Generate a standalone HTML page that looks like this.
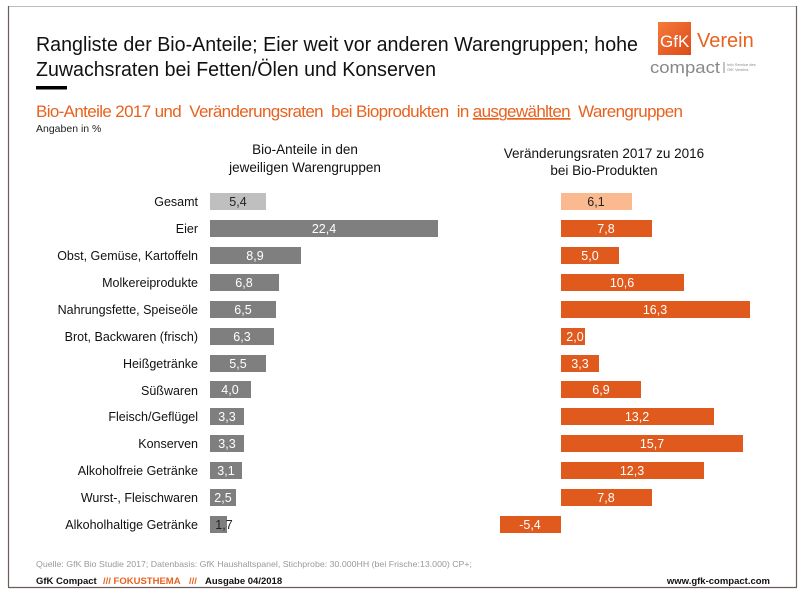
<!DOCTYPE html>
<html><head><meta charset="utf-8"><style>
html,body{margin:0;padding:0;background:#fff;}
svg{display:block;font-family:"Liberation Sans",Arial,sans-serif;}
</style></head><body>
<svg width="808" height="605" viewBox="0 0 808 605" xmlns="http://www.w3.org/2000/svg">
<rect width="808" height="605" fill="#fff"/>
<line x1="8" y1="6.5" x2="797" y2="6.5" stroke="#bdbdbd" stroke-width="1"/>
<line x1="8.5" y1="6" x2="8.5" y2="587" stroke="#6b5d55" stroke-width="1.2"/>
<line x1="796.5" y1="6" x2="796.5" y2="587" stroke="#6b5d55" stroke-width="1.2"/>
<line x1="8" y1="587.5" x2="797" y2="587.5" stroke="#6b5d55" stroke-width="1.2"/>

<text x="36" y="51" font-size="20" fill="#111" textLength="602" lengthAdjust="spacingAndGlyphs">Rangliste der Bio-Anteile; Eier weit vor anderen Warengruppen; hohe</text>
<text x="36" y="76" font-size="20" fill="#111" textLength="400" lengthAdjust="spacingAndGlyphs">Zuwachsraten bei Fetten/Ölen und Konserven</text>
<rect x="36" y="86" width="31" height="3.5" fill="#000"/>

<defs><linearGradient id="g" x1="0" y1="0" x2="1" y2="1"><stop offset="0" stop-color="#f47b3a"/><stop offset="1" stop-color="#dd4a1a"/></linearGradient></defs>
<rect x="658" y="22" width="33" height="33" fill="url(#g)"/>
<text x="660" y="47" font-size="17" fill="#fff">GfK</text>
<text x="697" y="47" font-size="20" fill="#e8621f">Verein</text>
<text x="650" y="73" font-size="17" fill="#888" textLength="70" lengthAdjust="spacingAndGlyphs">compact</text>
<line x1="724" y1="62" x2="724" y2="73" stroke="#888"/>
<text x="727" y="66" font-size="4" fill="#888">Info Service des</text>
<text x="727" y="71" font-size="4" fill="#888">GfK Vereins</text>

<text x="36" y="117" font-size="17" fill="#e8621f" textLength="647" lengthAdjust="spacing" xml:space="preserve">Bio-Anteile 2017 und  Veränderungsraten  bei Bioprodukten  in <tspan text-decoration="underline">ausgewählten</tspan>  Warengruppen</text>
<text x="36" y="132" font-size="10.5" fill="#222">Angaben in %</text>

<text x="305" y="154" font-size="13.5" fill="#111" text-anchor="middle">Bio-Anteile in den</text>
<text x="305" y="172" font-size="13.5" fill="#111" text-anchor="middle">jeweiligen Warengruppen</text>
<text x="604" y="158" font-size="13.5" fill="#111" text-anchor="middle">Veränderungsraten 2017 zu 2016</text>
<text x="604" y="175" font-size="13.5" fill="#111" text-anchor="middle">bei Bio-Produkten</text>

<g font-size="12.5" fill="#111" text-anchor="end">
<text x="198" y="206">Gesamt</text>
<text x="198" y="233">Eier</text>
<text x="198" y="260">Obst, Gemüse, Kartoffeln</text>
<text x="198" y="287">Molkereiprodukte</text>
<text x="198" y="314">Nahrungsfette, Speiseöle</text>
<text x="198" y="341">Brot, Backwaren (frisch)</text>
<text x="198" y="368">Heißgetränke</text>
<text x="198" y="395">Süßwaren</text>
<text x="198" y="421">Fleisch/Geflügel</text>
<text x="198" y="448">Konserven</text>
<text x="198" y="475">Alkoholfreie Getränke</text>
<text x="198" y="502">Wurst-, Fleischwaren</text>
<text x="198" y="529">Alkoholhaltige Getränke</text>
</g>

<g>
<rect x="210" y="193" width="56" height="17" fill="#bfbfbf"/>
<rect x="210" y="220" width="228" height="17" fill="#7f7f7f"/>
<rect x="210" y="247" width="91" height="17" fill="#7f7f7f"/>
<rect x="210" y="274" width="69" height="17" fill="#7f7f7f"/>
<rect x="210" y="301" width="66" height="17" fill="#7f7f7f"/>
<rect x="210" y="328" width="64" height="17" fill="#7f7f7f"/>
<rect x="210" y="355" width="56" height="17" fill="#7f7f7f"/>
<rect x="210" y="381" width="41" height="17" fill="#7f7f7f"/>
<rect x="210" y="408" width="34" height="17" fill="#7f7f7f"/>
<rect x="210" y="435" width="34" height="17" fill="#7f7f7f"/>
<rect x="210" y="462" width="32" height="17" fill="#7f7f7f"/>
<rect x="210" y="489" width="26" height="17" fill="#7f7f7f"/>
<rect x="210" y="516" width="17" height="17" fill="#7f7f7f"/>
</g>
<g font-size="12.5" text-anchor="middle" fill="#fff">
<text x="238" y="206" fill="#222">5,4</text>
<text x="324" y="233">22,4</text>
<text x="255" y="260">8,9</text>
<text x="244" y="287">6,8</text>
<text x="243" y="314">6,5</text>
<text x="242" y="341">6,3</text>
<text x="238" y="368">5,5</text>
<text x="230" y="394">4,0</text>
<text x="227" y="421">3,3</text>
<text x="227" y="448">3,3</text>
<text x="226" y="475">3,1</text>
<text x="223" y="502">2,5</text>
<text x="224" y="529" fill="#222">1,7</text>
</g>

<g fill="#e05a1e">
<rect x="561" y="193" width="71" height="17" fill="#fbb98f"/>
<rect x="561" y="220" width="91" height="17"/>
<rect x="561" y="247" width="58" height="17"/>
<rect x="561" y="274" width="123" height="17"/>
<rect x="561" y="301" width="189" height="17"/>
<rect x="561" y="328" width="24" height="17"/>
<rect x="561" y="355" width="38" height="17"/>
<rect x="561" y="381" width="80" height="17"/>
<rect x="561" y="408" width="153" height="17"/>
<rect x="561" y="435" width="182" height="17"/>
<rect x="561" y="462" width="143" height="17"/>
<rect x="561" y="489" width="91" height="17"/>
<rect x="500" y="516" width="61" height="17"/>
</g>
<g font-size="12.5" text-anchor="middle" fill="#fff">
<text x="596" y="206" fill="#222">6,1</text>
<text x="606" y="233">7,8</text>
<text x="590" y="260">5,0</text>
<text x="622" y="287">10,6</text>
<text x="655" y="314">16,3</text>
<text x="575" y="341">2,0</text>
<text x="580" y="368">3,3</text>
<text x="601" y="394">6,9</text>
<text x="637" y="421">13,2</text>
<text x="652" y="448">15,7</text>
<text x="632" y="475">12,3</text>
<text x="606" y="502">7,8</text>
<text x="530" y="529">-5,4</text>
</g>

<text x="36" y="567" font-size="8.5" fill="#999" textLength="436" lengthAdjust="spacingAndGlyphs">Quelle: GfK Bio Studie 2017; Datenbasis: GfK Haushaltspanel, Stichprobe: 30.000HH (bei Frische:13.000) CP+;</text>
<g font-size="9.5" font-weight="bold">
<text x="36" y="584" fill="#111">GfK Compact</text>
<text x="103" y="584" fill="#e8621f">///  FOKUSTHEMA</text>
<text x="189" y="584" fill="#e8621f">///</text>
<text x="205" y="584" fill="#111">Ausgabe 04/2018</text>
<text x="770" y="584" fill="#111" text-anchor="end">www.gfk-compact.com</text>
</g>
</svg>
</body></html>
